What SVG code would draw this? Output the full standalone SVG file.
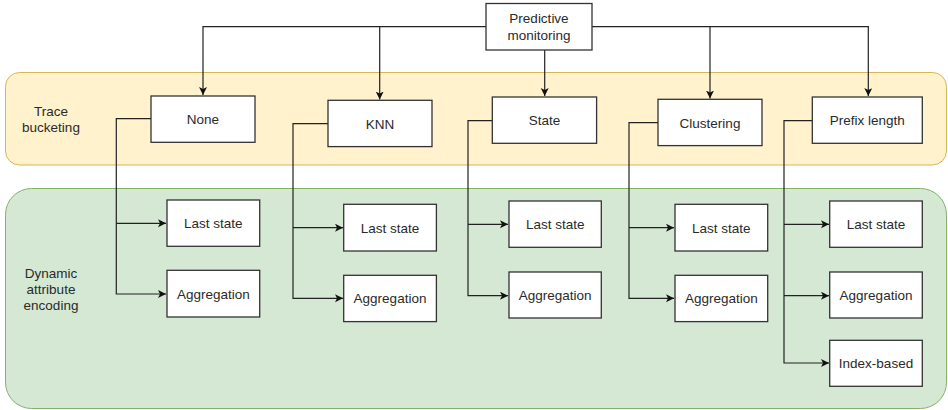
<svg xmlns="http://www.w3.org/2000/svg" width="948" height="410" viewBox="0 0 948 410">
<defs>
<style>
.box{fill:#fff;stroke:#333;stroke-width:1.3}
.t{font-family:"Liberation Sans",Arial,sans-serif;font-size:13.5px;fill:#2a2a2a;text-anchor:middle}
.c{fill:none;stroke:#222;stroke-width:1.2}
</style>
<marker id="ah" markerWidth="10" markerHeight="10" refX="8" refY="4" orient="auto" markerUnits="userSpaceOnUse">
<path d="M0,0 L8,4 L0,8 L2,4 z" fill="#111"/>
</marker>
</defs>
<g id="lane-bucketing">
<rect x="5.5" y="72.5" width="941" height="92.5" rx="14" fill="#fff2cc" stroke="#d6b656"/>
<text class="t" x="51" y="116">Trace</text>
<text class="t" x="51" y="132">bucketing</text>
</g>
<g id="lane-encoding">
<rect x="5.5" y="188.5" width="941" height="220" rx="26" fill="#d5e8d4" stroke="#82b366"/>
<text class="t" x="51" y="278">Dynamic</text>
<text class="t" x="51" y="294">attribute</text>
<text class="t" x="51" y="310">encoding</text>
</g>
<g id="connectors">
<path class="c" d="M486,26.7 H203 V95" marker-end="url(#ah)"/>
<path class="c" d="M379.7,26.7 V99.5" marker-end="url(#ah)"/>
<path class="c" d="M544.7,50 V96" marker-end="url(#ah)"/>
<path class="c" d="M592,26.7 H868.3 V96" marker-end="url(#ah)"/>
<path class="c" d="M710,26.7 V98.5" marker-end="url(#ah)"/>
<path class="c" d="M151,118.7 H116.3 V294 H166" marker-end="url(#ah)"/>
<path class="c" d="M116.3,223.3 H166" marker-end="url(#ah)"/>
<path class="c" d="M328,123.7 H293 V298.3 H343" marker-end="url(#ah)"/>
<path class="c" d="M293,227.7 H343" marker-end="url(#ah)"/>
<path class="c" d="M492.3,120.7 H468 V295.7 H508" marker-end="url(#ah)"/>
<path class="c" d="M468,224.3 H508" marker-end="url(#ah)"/>
<path class="c" d="M658,122.7 H629 V298.3 H674" marker-end="url(#ah)"/>
<path class="c" d="M629,227.7 H674" marker-end="url(#ah)"/>
<path class="c" d="M812.3,120.7 H784 V363 H829" marker-end="url(#ah)"/>
<path class="c" d="M784,224.3 H829" marker-end="url(#ah)"/>
<path class="c" d="M784,295.7 H829" marker-end="url(#ah)"/>
</g>
<g id="predictive-monitoring">
<rect class="box" x="486" y="3.5" width="106" height="46.5"/>
<text class="t" x="539" y="23">Predictive</text>
<text class="t" x="539" y="40">monitoring</text>
</g>
<g id="none"><rect class="box" x="151" y="96" width="104" height="46.3"/><text class="t" x="203" y="124">None</text></g>
<g id="knn"><rect class="box" x="328" y="100.3" width="104" height="46.3"/><text class="t" x="380" y="128.5">KNN</text></g>
<g id="state"><rect class="box" x="492.3" y="97" width="104.3" height="46.3"/><text class="t" x="544.5" y="125">State</text></g>
<g id="clustering"><rect class="box" x="658" y="99.3" width="104" height="46.3"/><text class="t" x="710" y="127.5">Clustering</text></g>
<g id="prefix-length"><rect class="box" x="812.3" y="97" width="110" height="46.3"/><text class="t" x="867.3" y="125">Prefix length</text></g>
<g id="none-last-state"><rect class="box" x="167" y="200" width="92.7" height="46.3"/><text class="t" x="213.3" y="228">Last state</text></g>
<g id="none-aggregation"><rect class="box" x="167" y="270.3" width="92.7" height="46.7"/><text class="t" x="213.3" y="298.5">Aggregation</text></g>
<g id="knn-last-state"><rect class="box" x="343.7" y="204.3" width="92.7" height="46.7"/><text class="t" x="390" y="232.5">Last state</text></g>
<g id="knn-aggregation"><rect class="box" x="343.7" y="275.3" width="92.7" height="46.3"/><text class="t" x="390" y="303">Aggregation</text></g>
<g id="state-last-state"><rect class="box" x="509" y="201" width="92.3" height="46.3"/><text class="t" x="555.2" y="229">Last state</text></g>
<g id="state-aggregation"><rect class="box" x="509" y="272" width="92.3" height="46"/><text class="t" x="555.2" y="300">Aggregation</text></g>
<g id="clustering-last-state"><rect class="box" x="675" y="204.3" width="92.7" height="46.7"/><text class="t" x="721.3" y="232.5">Last state</text></g>
<g id="clustering-aggregation"><rect class="box" x="675" y="275.3" width="92.7" height="46.3"/><text class="t" x="721.3" y="303">Aggregation</text></g>
<g id="prefix-last-state"><rect class="box" x="829.7" y="201" width="92.6" height="46.3"/><text class="t" x="876" y="229">Last state</text></g>
<g id="prefix-aggregation"><rect class="box" x="829.7" y="272" width="92.6" height="46"/><text class="t" x="876" y="300">Aggregation</text></g>
<g id="prefix-index-based"><rect class="box" x="829.7" y="340.3" width="92.6" height="46"/><text class="t" x="876" y="368">Index-based</text></g>
</svg>
